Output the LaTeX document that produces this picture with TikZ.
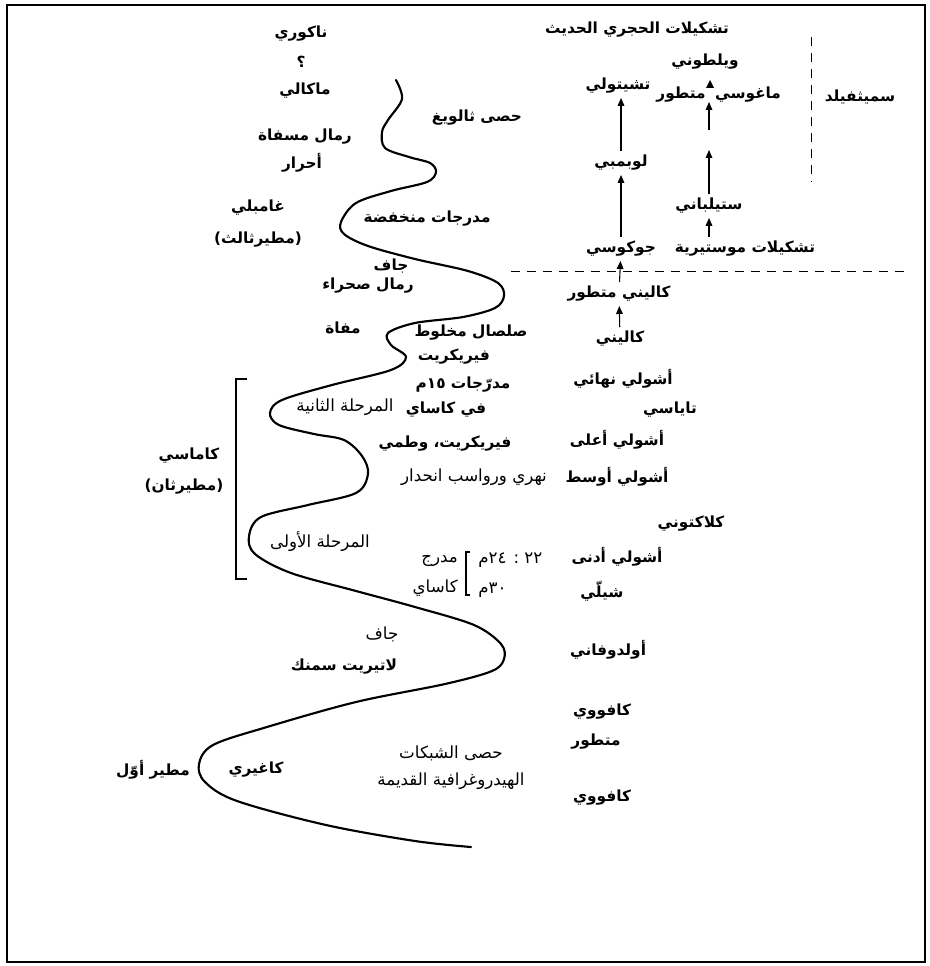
\documentclass[tikz,border=0pt]{standalone}
\usepackage{fontspec}
\usetikzlibrary{arrows.meta}
\TeXXeTstate=1
\newfontfamily\arabfont[Script=Arabic]{DejaVu Sans}
\newcommand{\myar}[1]{\beginR #1\endR}
\tikzset{
  lb/.style={font=\arabfont\bfseries\fontsize{11.5}{13}\selectfont, inner sep=0pt},
  lt/.style={font=\arabfont\fontsize{12.5}{14}\selectfont, inner sep=0pt},
  arr/.style={-{Triangle[length=6pt,width=5pt]}, line width=0.8pt, shorten <=3pt, shorten >=3pt},
  curve/.style={line width=1.6pt, line join=round, line cap=round},
  dline/.style={dash pattern=on 7pt off 5pt, line width=0.7pt},
  brk/.style={line width=0.8pt}
}
\begin{document}
\begin{tikzpicture}[x=0.75pt,y=-0.75pt]
\useasboundingbox (0,0) rectangle (930,966);
\draw[line width=1.1pt] (7,5) rectangle (925,962);

% meander
\draw[curve] plot[smooth, tension=0.55] coordinates {
(396,80) (402,99) (388,120) (382,132) (385,148) (409,157) (430,163) (436,172)
(427,182) (391,191) (356,203) (341,222) (344,234) (368,246) (415,259) (468,271)
(498,283) (504,296) (495,308) (463,317) (415,323) (388,333) (391,345) (406,357)
(391,370) (332,385) (282,400) (270,413) (279,425) (314,434) (344,440) (362,456)
(368,474) (356,493) (308,505) (261,517) (249,536) (255,554) (291,573) (356,591)
(415,607) (474,625) (501,644) (504,659) (492,671) (445,684) (356,702) (267,727)
(213,745) (199,764) (205,782) (237,801) (326,825) (415,841) (471,847)};

% left labels
\node[lb] (nakuri) at (301,34) {\myar{ناكوري}};
\node[lb] (qmark) at (301,62) {\myar{؟}};
\node[lb] (makali) at (305,91) {\myar{ماكالي}};
\node[lb] (ramal1) at (305,137) {\myar{رمال مسفاة}};
\node[lb] (ahrar) at (302,163) {\myar{أحرار}};
\node[lb] (gambli) at (258,208) {\myar{غامبلي}};
\node[lb] (mutir3) at (258,240) {\myar{(مطيرثالث)}};
\node[lb] (thalwig) at (477,118) {\myar{حصى ثالويغ}};
\node[lb] (mudarajat) at (427,219) {\myar{مدرجات منخفضة}};
\node[lb] (jaf1) at (391,266) {\myar{جاف}};
\node[lb] (ramal2) at (368,286) {\myar{رمال صحراء}};
\node[lb] (mafa) at (343,328) {\myar{مفاة}};
\node[lb] (salsal) at (471,333) {\myar{صلصال مخلوط}};
\node[lb] (ferri1) at (454,357) {\myar{فيريكريت}};
\node[lb] (mud15) at (463,385) {\myar{مدرّجات ١٥م}};
\node[lb] (kasai1) at (446,410) {\myar{في كاساي}};
\node[lt] (marhala2) at (345,407) {\myar{المرحلة الثانية}};
\node[lb] (ferri2) at (445,444) {\myar{فيريكريت، وطمي}};
\node[lt] (nahri) at (474,477) {\myar{نهري ورواسب انحدار}};
\node[lb] (kamasi) at (189,456) {\myar{كاماسي}};
\node[lb] (mutir2) at (184,487) {\myar{(مطيرثان)}};
\node[lt] (marhala1) at (320,542) {\myar{المرحلة الأولى}};
\node[lt, anchor=east] (mudraj) at (458,561) {\myar{مدرج}};
\node[lt, anchor=east] (kasai2) at (458,588) {\myar{كاساي}};
\node[lt, anchor=west] (m2224) at (478,560) {\myar{٢٢ : ٢٤م}};
\node[lt, anchor=west] (m30) at (478,590) {\myar{٣٠م}};
\node[lt] (jaf2) at (382,634) {\myar{جاف}};
\node[lb] (laterite) at (344,667) {\myar{لاتيريت سمنك}};
\node[lt] (hasa) at (451,753) {\myar{حصى الشبكات}};
\node[lt] (hydro) at (451,781) {\myar{الهيدروغرافية القديمة}};
\node[lb] (kagiri) at (256,770) {\myar{كاغيري}};
\node[lb] (mutir1) at (153,770) {\myar{مطير أوّل}};

% brackets
\draw[brk] (247,379) -- (236,379) -- (236,579) -- (247,579);
\draw[brk] (470,552) -- (466,552) -- (466,595) -- (470,595);

% right column
\node[lb] (kafuwi2) at (602,712) {\myar{كافووي}};
\node[lb] (mutat2) at (596,742) {\myar{متطور}};
\node[lb] (kafuwi1) at (602,798) {\myar{كافووي}};
\node[lb] (olduwai) at (608,650) {\myar{أولدوفاني}};
\node[lb] (shelli) at (602,591) {\myar{شيلّي}};
\node[lb] (acheul1) at (617,557) {\myar{أشولي أدنى}};
\node[lb] (clacton) at (691,524) {\myar{كلاكتوني}};
\node[lb] (acheul2) at (617,477) {\myar{أشولي أوسط}};
\node[lb] (acheul3) at (617,440) {\myar{أشولي أعلى}};
\node[lb] (tayasi) at (670,410) {\myar{تاياسي}};
\node[lb] (acheul4) at (623,379) {\myar{أشولي نهائي}};
\node[lb] (kalini) at (620,339) {\myar{كاليني}};
\node[lb] (kalinidev) at (619,294) {\myar{كاليني متطور}};
\node[lb] (jokosi) at (621,249) {\myar{جوكوسي}};
\node[lb] (lubmbi) at (621,163) {\myar{لوبمبي}};
\node[lb] (tshit) at (618,86) {\myar{تشيتولي}};
\node[lb] (mostir) at (745,249) {\myar{تشكيلات موستيرية}};
\node[lb] (stilb) at (709,206) {\myar{ستيلباني}};
\node[lb] (magosi) at (748,95) {\myar{ماغوسي}};
\node[lb] (mutat1) at (681,95) {\myar{متطور}};
\node[lb] (wilton) at (705,62) {\myar{ويلطوني}};
\node[lb] (neo) at (637,30) {\myar{تشكيلات الحجري الحديث}};
\node[lb] (smith) at (860,97) {\myar{سميثفيلد}};

% dashed divisions
\draw[dline] (811,37) -- (811,182);
\draw[dline] (511,271) -- (910,271);

% arrows
\draw[arr] (kalini) -- (kalinidev);
\draw[arr] (kalinidev) -- (jokosi);
\draw[arr] (jokosi) -- (lubmbi);
\draw[arr] (lubmbi.north) -- (lubmbi.north |- tshit.south);
\draw[arr] (mostir.north -| stilb) -- (stilb);
\coordinate (gapB) at (709,146);
\coordinate (gapC) at (709,130);
\coordinate (magtip) at (709,102);
\draw[arr] (stilb) -- (gapB);
\draw[arr, shorten <=0pt, shorten >=0pt] (gapC) -- (magtip);
\fill (706,88) -- (714,88) -- (710,80) -- cycle;
\end{tikzpicture}
\end{document}
